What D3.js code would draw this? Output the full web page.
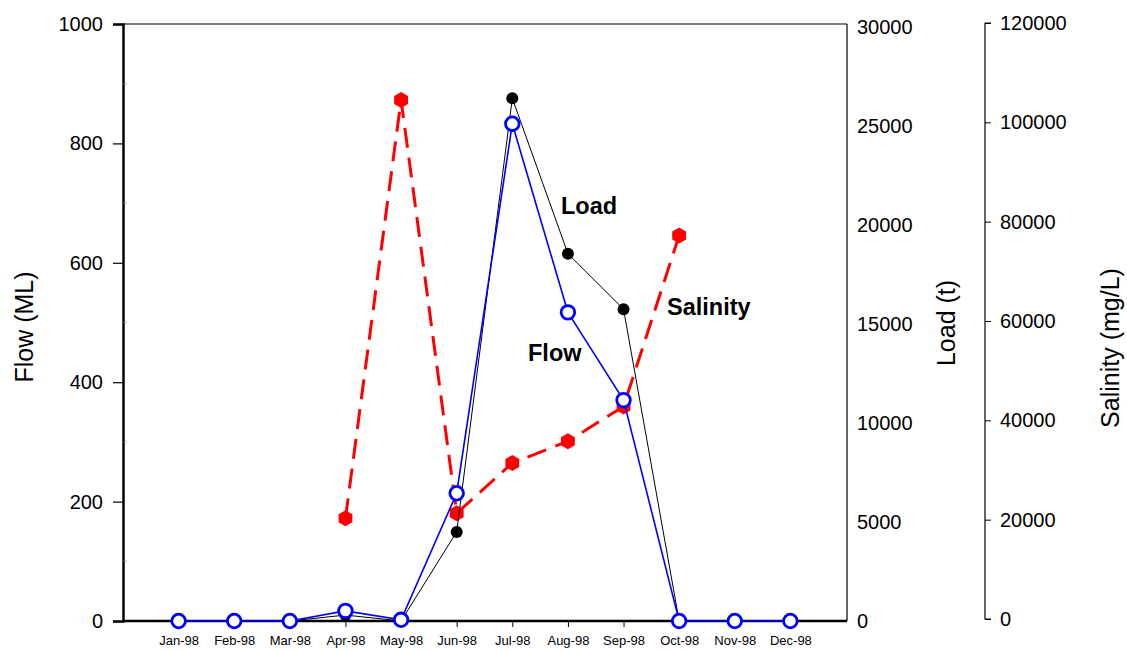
<!DOCTYPE html>
<html><head><meta charset="utf-8">
<script src="https://cdn.jsdelivr.net/npm/d3@7"></script>
<style>body{margin:0;background:#fff}svg{display:block}</style>
</head><body>
<svg id="c" width="1127" height="651"></svg>
<script>
const months = ["Jan-98","Feb-98","Mar-98","Apr-98","May-98","Jun-98","Jul-98","Aug-98","Sep-98","Oct-98","Nov-98","Dec-98"];
const flow = [0,0,0,17,2,214,833,517,370,0,0,0];
const load = [0,0,0,300,0,4500,26400,18550,15750,0,0,0];
const salinity = [null,null,null,20300,104500,21300,31400,35800,42800,77200,null,null];
const flowTicks = [0,200,400,600,800,1000];
const loadTicks = [0,5000,10000,15000,20000,25000,30000];
const salTicks = [0,20000,40000,60000,80000,100000,120000];

const svg = d3.select("#c");
const L = 123, R = 847, T = 24, B = 621, SX = 985;
const font = "'Liberation Sans', Arial, sans-serif";

const x = d3.scaleLinear().domain([-1, 12]).range([L, R - 1]);
const yF = d3.scaleLinear().domain([0, 1000]).range([B, T]);
const yL = d3.scaleLinear().domain([0, 30000]).range([B, T + 3]);
const yS = d3.scaleLinear().domain([0, 120000]).range([B - 2, T - 1]);

// frame top & right
svg.append("line").attr("x1", L).attr("x2", R).attr("y1", T).attr("y2", T).attr("stroke", "#000").attr("stroke-width", 1.2);
svg.append("line").attr("x1", R).attr("x2", R).attr("y1", T).attr("y2", B).attr("stroke", "#000").attr("stroke-width", 1.2);

// left axis
const gL = svg.append("g").attr("transform", `translate(${L},0)`)
  .call(d3.axisLeft(yF).tickValues(flowTicks).tickSize(10).tickPadding(10).tickFormat(d3.format("d")));
gL.select(".domain").attr("stroke-width", 2.5);
gL.selectAll(".tick line").attr("stroke-width", 1.2);
gL.selectAll("text").style("font-family", font).style("font-size", "20px").attr("fill", "#000");
// minor ticks
svg.append("g").selectAll("line").data(d3.range(100, 1000, 200)).join("line")
  .attr("x1", L).attr("x2", L + 4).attr("y1", d => yF(d)).attr("y2", d => yF(d)).attr("stroke", "#888").attr("stroke-width", 0.6);

// bottom axis
const gB = svg.append("g").attr("transform", `translate(0,${B})`)
  .call(d3.axisBottom(x).tickValues(d3.range(12)).tickSize(6).tickPadding(9).tickFormat(i => months[i]));
gB.select(".domain").attr("d", `M${L},0H${R}`).attr("stroke-width", 2.5);
gB.selectAll("text").style("font-family", font).style("font-size", "13px").attr("fill", "#000");

// load axis (right side of frame), labels only
const gR = svg.append("g").attr("transform", `translate(${R},0)`)
  .call(d3.axisRight(yL).tickValues(loadTicks).tickSize(0).tickPadding(10).tickFormat(d3.format("d")));
gR.select(".domain").remove();
gR.selectAll("text").style("font-family", font).style("font-size", "20px").attr("fill", "#000");

// salinity axis
const gS = svg.append("g").attr("transform", `translate(${SX},0)`)
  .call(d3.axisRight(yS).tickValues(salTicks).tickSize(6).tickPadding(9).tickFormat(d3.format("d")));
gS.select(".domain").attr("d", `M6,${yS(120000)}H0V${yS(0)}H6`).attr("stroke-width", 1.2);
gS.selectAll("text").style("font-family", font).style("font-size", "20px").attr("fill", "#000");

// axis titles
svg.append("text").attr("transform", `translate(33,327) rotate(-90)`).attr("text-anchor", "middle")
  .style("font-family", font).style("font-size", "25px").text("Flow (ML)");
svg.append("text").attr("transform", `translate(955,323) rotate(-90)`).attr("text-anchor", "middle")
  .style("font-family", font).style("font-size", "25px").text("Load (t)");
svg.append("text").attr("transform", `translate(1119,348) rotate(-90)`).attr("text-anchor", "middle")
  .style("font-family", font).style("font-size", "25px").text("Salinity (mg/L)");

// salinity
const salData = salinity.map((v, i) => ({ i, v })).filter(d => d.v != null);
svg.append("path").datum(salData)
  .attr("d", d3.line().x(d => x(d.i)).y(d => yS(d.v)))
  .attr("fill", "none").attr("stroke", "#ff0000").attr("stroke-width", 3).attr("stroke-dasharray", "20,10");
const hex = d3.range(6).map(k => { const a = Math.PI / 3 * k + Math.PI / 6; return [8 * Math.cos(a), 8 * Math.sin(a)]; });
svg.append("g").selectAll("path").data(salData).join("path")
  .attr("transform", d => `translate(${x(d.i)},${yS(d.v)})`)
  .attr("d", "M" + hex.map(p => p.join(",")).join("L") + "Z").attr("fill", "#ff0000");

// load
svg.append("path").datum(load)
  .attr("d", d3.line().x((d, i) => x(i)).y(d => yL(d)))
  .attr("fill", "none").attr("stroke", "#000").attr("stroke-width", 1);
svg.append("g").selectAll("circle").data(load.map((v, i) => ({ i, v })).filter(d => d.v > 0 || (d.i >= 3 && d.i <= 9))).join("circle")
  .attr("cx", d => x(d.i)).attr("cy", d => yL(d.v)).attr("r", 6).attr("fill", "#000");

// flow
svg.append("path").datum(flow)
  .attr("d", d3.line().x((d, i) => x(i)).y(d => yF(d)))
  .attr("fill", "none").attr("stroke", "#0000ff").attr("stroke-width", 1.6);
svg.append("g").selectAll("circle").data(flow).join("circle")
  .attr("cx", (d, i) => x(i)).attr("cy", d => yF(d)).attr("r", 6.8)
  .attr("fill", "#fff").attr("stroke", "#0000ff").attr("stroke-width", 2.8);

// annotations
const ann = [["Load", 561, 214], ["Salinity", 667, 315], ["Flow", 528, 361]];
svg.append("g").selectAll("text").data(ann).join("text")
  .attr("x", d => d[1]).attr("y", d => d[2]).text(d => d[0])
  .style("font-family", font).style("font-size", "23.5px").style("font-weight", "bold");
</script>
</body></html>
